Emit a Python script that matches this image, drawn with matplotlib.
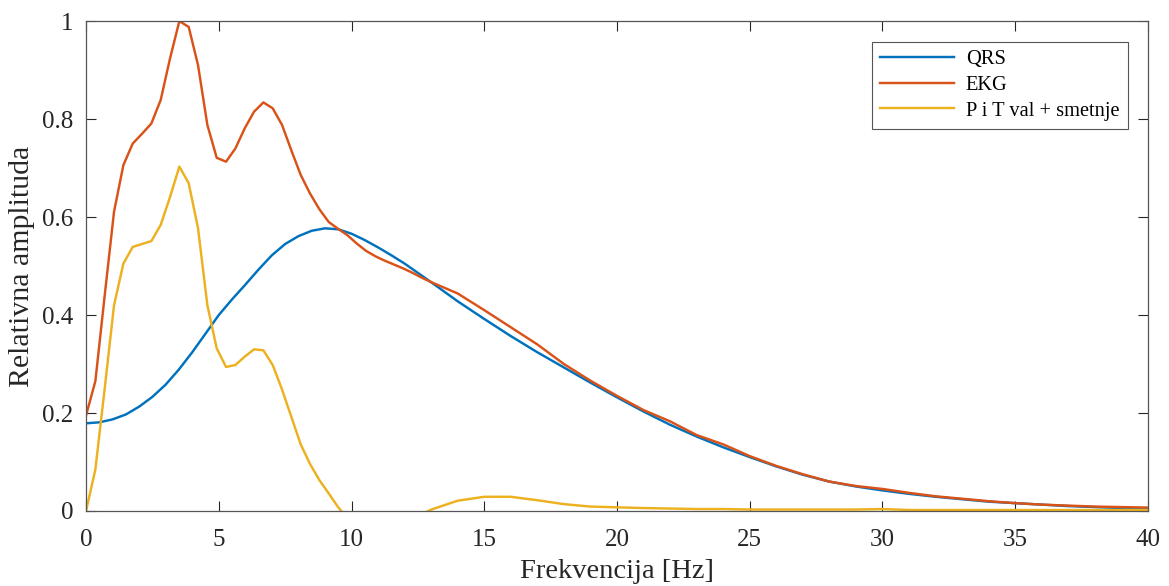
import numpy as np
import matplotlib.pyplot as plt

plt.rcParams['font.family'] = ['Liberation Serif', 'DejaVu Serif']

# frequency grid of the FFT (360 Hz / 1024 points) up to ~13 Hz, then 1 Hz steps
f_low = np.arange(38) * 360 / 1024
f_high = np.arange(14, 41)

ekg_low = [0.195, 0.265, 0.44, 0.611, 0.706, 0.750, 0.770, 0.791, 0.839, 0.924,
           1.0, 0.988, 0.910, 0.788, 0.721, 0.713, 0.740, 0.781, 0.815, 0.834,
           0.822, 0.788, 0.736, 0.686, 0.648, 0.616, 0.590, 0.576, 0.563, 0.546,
           0.531, 0.520, 0.511, 0.503, 0.495, 0.486, 0.476, 0.467]
ekg_high = [0.444, 0.410, 0.375, 0.340, 0.300, 0.266, 0.235, 0.206, 0.183, 0.155,
            0.136, 0.112, 0.092, 0.075, 0.060, 0.051, 0.045, 0.037, 0.030, 0.025,
            0.020, 0.016, 0.013, 0.011, 0.009, 0.008, 0.007]

pt_low = [0.0, 0.085, 0.25, 0.42, 0.505, 0.539, 0.545, 0.551, 0.584, 0.641,
          0.703, 0.669, 0.577, 0.42, 0.332, 0.294, 0.298, 0.315, 0.330, 0.328,
          0.298, 0.248, 0.192, 0.136, 0.096, 0.063, 0.036, 0.008, -0.015, -0.03,
          -0.035, -0.035, -0.03, -0.025, -0.018, -0.01, -0.006, 0.003]
pt_high = [0.021, 0.029, 0.029, 0.022, 0.014, 0.009, 0.0075, 0.006, 0.005, 0.004,
           0.004, 0.003, 0.003, 0.003, 0.003, 0.003, 0.004, 0.002, 0.002, 0.002,
           0.002, 0.002, 0.002, 0.002, 0.002, 0.002, 0.002]

# QRS spectrum: 0.5 Hz steps up to 12 Hz, then 1 Hz steps
f_qrs = np.concatenate([np.arange(0, 12, 0.5), np.arange(12, 41)])
qrs = [0.179, 0.181, 0.187, 0.197, 0.213, 0.233, 0.258, 0.289, 0.324, 0.362,
       0.400, 0.432, 0.462, 0.493, 0.522, 0.545, 0.561, 0.572, 0.577, 0.575,
       0.566, 0.553, 0.538, 0.522,
       0.505, 0.467, 0.428, 0.392, 0.357, 0.324, 0.293, 0.262,
       0.232, 0.203, 0.176, 0.152, 0.130, 0.110, 0.091, 0.074, 0.060, 0.050,
       0.042, 0.035, 0.029, 0.024, 0.019, 0.016, 0.013, 0.010, 0.008, 0.006, 0.005]

f_all = np.concatenate([f_low, f_high])

fig = plt.figure(figsize=(11.69, 5.86), dpi=100)
ax = fig.add_axes([0.0736, 0.128, 0.9084, 0.836])

ax.plot(f_qrs, qrs, color='#0072BD', lw=1.75, label='QRS')
ax.plot(f_all, ekg_low + ekg_high, color='#D95319', lw=1.75, label='EKG')
ax.plot(f_all, pt_low + pt_high, color='#EDB120', lw=1.75, label='P i T val + smetnje')

ax.set_xlim(0, 40)
ax.set_ylim(0, 1)
ax.set_xticks(np.arange(0, 41, 5))
ax.set_yticks([0, 0.2, 0.4, 0.6, 0.8, 1])
ax.set_yticklabels(['0', '0.2', '0.4', '0.6', '0.8', '1'])
ax.tick_params(direction='in', top=True, right=True, length=7, width=0.8,
               colors='#262626', labelsize=18, pad=9)
ax.tick_params(axis='x', pad=13)
for s in ax.spines.values():
    s.set_color('#555555')
    s.set_linewidth(0.9)

ax.set_xlabel('Frekvencija [Hz]', fontsize=20.5, color='#262626', labelpad=6)
ax.set_ylabel('Relativna amplituda', fontsize=21.5, color='#262626', labelpad=5)

leg = ax.legend(loc='upper right', fontsize=14.7, fancybox=False, framealpha=1,
                edgecolor='#555555', handlelength=3.6, borderaxespad=1.0,
                labelspacing=0.32, handletextpad=0.6)
leg.get_frame().set_linewidth(0.8)

fig.savefig('out.png', dpi=100)
